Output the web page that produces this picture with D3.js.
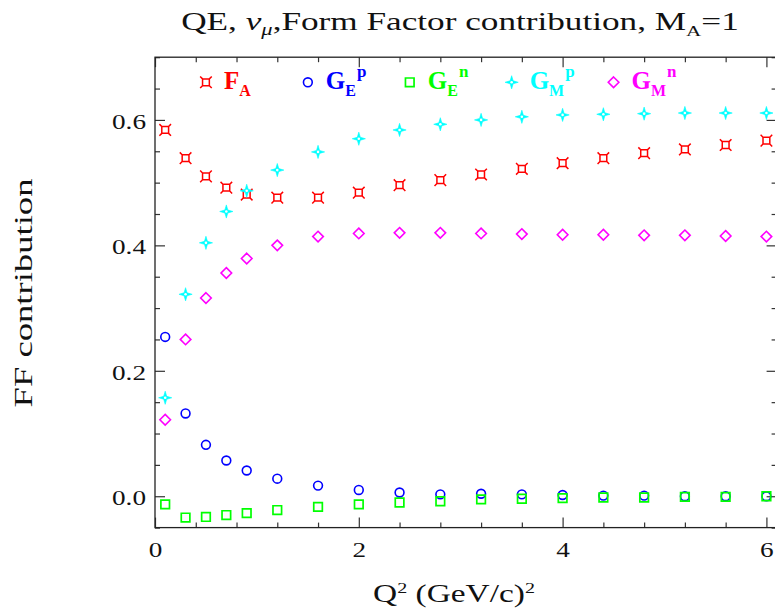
<!DOCTYPE html>
<html><head><meta charset="utf-8">
<script src="https://cdn.jsdelivr.net/npm/d3@7"></script>
<style>body{margin:0;background:#fff;overflow:hidden} svg{display:block}</style>
</head><body>
<svg id="chart" width="775" height="609"></svg>
<script>
// ---------- data ----------
const qsq = [0.1,0.3,0.5,0.7,0.9,1.2,1.6,2.0,2.4,2.8,3.2,3.6,4.0,4.4,4.8,5.2,5.6,6.0];
const fA  = [0.584,0.539,0.510,0.492,0.481,0.476,0.476,0.484,0.496,0.504,0.513,0.522,0.531,0.539,0.547,0.553,0.560,0.567];
const gEp = [0.254,0.132,0.082,0.057,0.041,0.028,0.017,0.010,0.006,0.003,0.004,0.003,0.002,0.001,0.001,0.000,0.000,0.000];
const gEn = [-0.013,-0.034,-0.033,-0.030,-0.027,-0.022,-0.017,-0.013,-0.010,-0.008,-0.005,-0.004,-0.003,-0.002,-0.002,-0.001,-0.001,0.000];
const gMp = [0.157,0.322,0.404,0.454,0.487,0.520,0.549,0.570,0.584,0.593,0.600,0.605,0.608,0.609,0.610,0.611,0.611,0.611];
const gMn = [0.122,0.250,0.316,0.356,0.379,0.400,0.414,0.419,0.420,0.420,0.419,0.418,0.417,0.417,0.416,0.416,0.415,0.414];
const legendMain = ["F","G","G","G","G"];
const legendSub  = ["A","E","E","M","M"];
const legendSup  = ["","p","n","p","n"];
const xTickValues = [0,2,4,6];
const xTickLabels = ["0","2","4","6"];
const yTickValues = [0.0,0.2,0.4,0.6];
const yTickLabels = ["0.0","0.2","0.4","0.6"];

// ---------- layout ----------
const svg = d3.select("#chart");
const L = 155, R = 776.6, T = 57.2, B = 527.6;
const x = d3.scaleLinear().domain([0, 6.1]).range([L, R]);
const y = d3.scaleLinear().domain([-0.05, 0.7]).range([B, T]);
const SERIF = "'Liberation Serif', 'Times New Roman', serif";
const STRETCH = 1.36;

const xMinor = d3.range(0, 6.001, 0.4).filter(v => !xTickValues.some(t => Math.abs(t - v) < 1e-6));
const yMinor = d3.range(-0.05, 0.7001, 0.05).filter(v => !yTickValues.some(t => Math.abs(t - v) < 1e-6));

function styleAxis(g){
  g.select(".domain").remove();
  g.selectAll(".tick line").attr("stroke","#333").attr("stroke-width",1.2);
}
// bottom
svg.append("g").attr("transform",`translate(0,${B})`)
  .call(d3.axisBottom(x).tickValues(xTickValues).tickFormat((d,i)=>xTickLabels[i]).tickSizeInner(-10).tickSizeOuter(0).tickPadding(15))
  .call(styleAxis)
  .call(g=>g.selectAll("text").attr("font-family",SERIF).attr("font-size",20).attr("fill","#111").attr("transform",`scale(${STRETCH},1)`));
svg.append("g").attr("transform",`translate(0,${B})`)
  .call(d3.axisBottom(x).tickValues(xMinor).tickFormat("").tickSizeInner(-5).tickSizeOuter(0)).call(styleAxis);
// top
svg.append("g").attr("transform",`translate(0,${T})`)
  .call(d3.axisTop(x).tickValues(xTickValues).tickFormat("").tickSizeInner(-10).tickSizeOuter(0)).call(styleAxis);
svg.append("g").attr("transform",`translate(0,${T})`)
  .call(d3.axisTop(x).tickValues(xMinor).tickFormat("").tickSizeInner(-5).tickSizeOuter(0)).call(styleAxis);
// left
svg.append("g").attr("transform",`translate(${L},0)`)
  .call(d3.axisLeft(y).tickValues(yTickValues).tickFormat((d,i)=>yTickLabels[i]).tickSizeInner(-10).tickSizeOuter(0).tickPadding(9))
  .call(styleAxis)
  .call(g=>g.selectAll("text").attr("font-family",SERIF).attr("font-size",20).attr("fill","#111")
        .attr("x",0).attr("dy","0.42em").attr("transform",`translate(-9,0) scale(${STRETCH},1)`));
svg.append("g").attr("transform",`translate(${L},0)`)
  .call(d3.axisLeft(y).tickValues(yMinor).tickFormat("").tickSizeInner(-5).tickSizeOuter(0)).call(styleAxis);
// right
svg.append("g").attr("transform",`translate(${R},0)`)
  .call(d3.axisRight(y).tickValues(yTickValues).tickFormat("").tickSizeInner(-10).tickSizeOuter(0)).call(styleAxis);
svg.append("g").attr("transform",`translate(${R},0)`)
  .call(d3.axisRight(y).tickValues(yMinor).tickFormat("").tickSizeInner(-5).tickSizeOuter(0)).call(styleAxis);

// frame
svg.append("rect").attr("x",L).attr("y",T).attr("width",R-L).attr("height",B-T)
  .attr("fill","none").attr("stroke","#222").attr("stroke-width",1.3);

// ---------- markers ----------
const styles = [
  {color:"#ff0000", path:"M-3.4,-3.4H3.4V3.4H-3.4Z M-3.4,-3.4L-5.8,-5.8 M3.4,-3.4L5.8,-5.8 M3.4,3.4L5.8,5.8 M-3.4,3.4L-5.8,5.8", fill:false, sw:1.5},
  {color:"#0000ff", circle:4.4, sw:1.6},
  {color:"#00ff00", path:"M-4.3,-4.3H4.3V4.3H-4.3Z", fill:false, sw:1.7},
  {color:"#00ffff", path:"M0,-6.6L1.5,-1.5L6.6,0L1.5,1.5L0,6.6L-1.5,1.5L-6.6,0L-1.5,-1.5Z", fill:true, hole:1.3},
  {color:"#ff00ff", path:"M0,-5.3L5.3,0L0,5.3L-5.3,0Z", fill:false, sw:1.6}
];
function drawMarker(g, st){
  if (st.circle){
    g.append("circle").attr("r",st.circle).attr("fill","none").attr("stroke",st.color).attr("stroke-width",st.sw);
  } else if (st.fill){
    g.append("path").attr("d",st.path).attr("fill",st.color).attr("stroke",st.color).attr("stroke-width",0.6);
    g.append("circle").attr("r",st.hole).attr("fill","#fff");
  } else {
    g.append("path").attr("d",st.path).attr("fill","none").attr("stroke",st.color).attr("stroke-width",st.sw);
  }
}
const series = [fA, gEp, gEn, gMp, gMn];
series.forEach((vals, si) => {
  const grp = svg.append("g");
  grp.selectAll("g").data(qsq.map((q,i)=>[q, vals[i]])).join("g")
    .attr("transform", d => `translate(${x(d[0])},${y(d[1])})`)
    .each(function(){ drawMarker(d3.select(this), styles[si]); });
});

// ---------- legend ----------
legendMain.forEach((m, i) => {
  const g = svg.append("g").attr("transform", `translate(${x(i + 0.5)},${y(0.66)})`);
  drawMarker(g, styles[i]);
  const t = g.append("text").attr("x",18).attr("y",7).attr("font-family",SERIF).attr("font-weight","bold")
    .attr("font-size",25).attr("fill",styles[i].color);
  t.append("tspan").text(m);
  t.append("tspan").attr("font-size",16).attr("dy",6.5).text(legendSub[i]);
  if (legendSup[i]) t.append("tspan").attr("font-size",17).attr("dx",1).attr("dy",-19).text(legendSup[i]);
});

// ---------- titles ----------
function fit(sel, tf, target){
  const w = sel.node().getBBox().width;
  sel.attr("transform", `${tf} scale(${target / w},1)`);
}
const title = svg.append("text").attr("text-anchor","middle").attr("font-family",SERIF).attr("font-size",25).attr("fill","#111");
title.append("tspan").text("QE, ");
title.append("tspan").attr("font-style","italic").text("ν");
title.append("tspan").attr("font-style","italic").attr("font-size",16).attr("dy",5).text("μ");
title.append("tspan").attr("dy",-5).text(",Form Factor contribution, M");
title.append("tspan").attr("font-size",15).attr("dy",6).text("A");
title.append("tspan").attr("dy",-6).text("=1");
fit(title, "translate(460,30)", 558);

const xl = svg.append("text").attr("text-anchor","middle").attr("font-family",SERIF).attr("font-size",25).attr("fill","#111");
xl.append("tspan").text("Q");
xl.append("tspan").attr("font-size",15).attr("dy",-9).text("2");
xl.append("tspan").attr("dy",9).text(" (GeV/c)");
xl.append("tspan").attr("font-size",15).attr("dy",-9).text("2");
fit(xl, "translate(454,602)", 162);

const yl = svg.append("text").attr("text-anchor","middle").attr("font-family",SERIF).attr("font-size",26).attr("fill","#111")
  .text("FF contribution");
fit(yl, "translate(32,293) rotate(-90)", 229);
</script>
</body></html>
